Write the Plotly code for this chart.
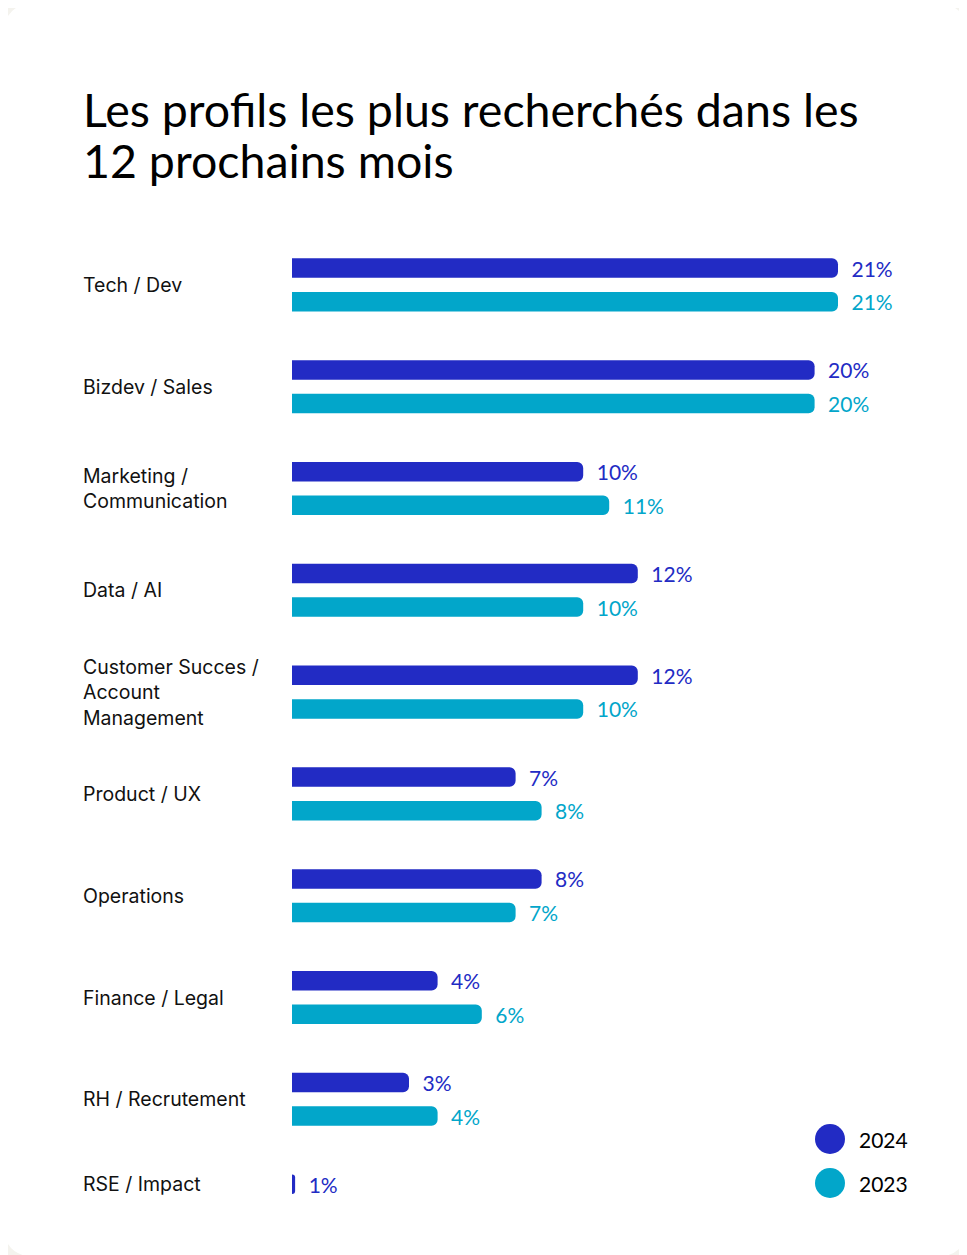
"""
Les profils les plus recherchés dans les 12 prochains mois
Horizontal grouped bars, 2024 vs 2023.
"""

import plotly.graph_objects as go

# --- data -----------------------------------------------------------------
categories = [
    "Tech / Dev",
    "Bizdev / Sales",
    "Marketing /<br>Communication",
    "Data / AI",
    "Customer Succes /<br>Account<br>Management",
    "Product / UX",
    "Operations",
    "Finance / Legal",
    "RH / Recrutement",
    "RSE / Impact",
]

# bar lengths (in %)
values_2024 = [21.0, 20.1, 11.2, 13.3, 13.3, 8.6, 9.6, 5.6, 4.5, 0.12]
values_2023 = [21.0, 20.1, 12.2, 11.2, 11.2, 9.6, 8.6, 7.3, 5.6, None]

# printed labels
labels_2024 = ["21%", "20%", "10%", "12%", "12%", "7%", "8%", "4%", "3%", "1%"]
labels_2023 = ["21%", "20%", "11%", "10%", "10%", "8%", "7%", "6%", "4%", ""]

years = ["2024", "2023"]
title_lines = ["Les profils les plus recherchés dans les", "12 prochains mois"]

# --- style ----------------------------------------------------------------
OFF = 8                      # page margin around the figure div
PAGE_W, PAGE_H = 967, 1255
W, H = PAGE_W - OFF, PAGE_H - OFF
# plot area in page pixels
X0, X1, Y0, Y1 = 292, 930, 234, 1252
BLUE = "#222BC4"
CYAN = "#02A6CA"
BG = "#F4F3EE"
TEXT = "#111111"


def px_x(x):
    return (x - X0) / (X1 - X0)


def px_y(y):
    return 1 - (y - Y0) / (Y1 - Y0)


def rounded_card(x0, y0, x1, y1, r):
    pts = [
        f"M {px_x(x0 + r)} {px_y(y0)}",
        f"L {px_x(x1 - r)} {px_y(y0)}",
        f"Q {px_x(x1)} {px_y(y0)} {px_x(x1)} {px_y(y0 + r)}",
        f"L {px_x(x1)} {px_y(y1 - r)}",
        f"Q {px_x(x1)} {px_y(y1)} {px_x(x1 - r)} {px_y(y1)}",
        f"L {px_x(x0 + r)} {px_y(y1)}",
        f"Q {px_x(x0)} {px_y(y1)} {px_x(x0)} {px_y(y1 - r)}",
        f"L {px_x(x0)} {px_y(y0 + r)}",
        f"Q {px_x(x0)} {px_y(y0)} {px_x(x0 + r)} {px_y(y0)}",
        "Z",
    ]
    return " ".join(pts)


fig = go.Figure()

for name, vals, labs, color in [
    (years[0], values_2024, labels_2024, BLUE),
    (years[1], values_2023, labels_2023, CYAN),
]:
    fig.add_trace(go.Bar(
        y=categories,
        x=vals,
        name=name,
        orientation="h",
        marker=dict(color=color, line=dict(width=0)),
        text=labs,
        texttemplate="\u2002%{text}",
        textposition="outside",
        textfont=dict(family="Lato", size=21, color=color),
        constraintext="none",
        cliponaxis=False,
        hoverinfo="skip",
        showlegend=False,
    ))

# category labels, left aligned
annotations = []
for i, cat in enumerate(categories):
    # row with a single bar: label follows the lone bar
    shift = 17 if values_2023[i] is None else 0
    annotations.append(dict(
        x=px_x(81), xref="paper", xanchor="left",
        y=cat, yref="y", yanchor="middle", yshift=shift,
        text=cat, showarrow=False, align="left",
        font=dict(family="Inter", size=19.5, color=TEXT),
    ))

# title
for j, line in enumerate(title_lines):
    annotations.append(dict(
        x=px_x(81), xref="paper", xanchor="left",
        y=px_y(109 + j * 51), yref="paper", yanchor="middle",
        text=line, showarrow=False, align="left",
        font=dict(family="Lato", size=46.5, color="#000000"),
    ))

# white card
shapes = [dict(
    type="path", xref="paper", yref="paper", layer="below",
    path=rounded_card(3, 3, 968, 1257, 34),
    fillcolor="white", line=dict(width=0),
)]
# legend
for k, (yr, color) in enumerate(zip(years, [BLUE, CYAN])):
    cy = 1139 + k * 44
    shapes.append(dict(
        type="circle", xref="paper", yref="paper",
        x0=px_x(815), x1=px_x(845), y0=px_y(cy - 15), y1=px_y(cy + 15),
        fillcolor=color, line=dict(width=0),
    ))
    annotations.append(dict(
        x=px_x(857), xref="paper", xanchor="left",
        y=px_y(cy), yref="paper", yanchor="middle",
        text=yr, showarrow=False,
        font=dict(family="Lato", size=21, color="#000000"),
    ))

fig.update_layout(
    width=W, height=H,
    margin=dict(l=X0 - OFF, r=PAGE_W - X1, t=Y0 - OFF, b=PAGE_H - Y1),
    paper_bgcolor=BG,
    plot_bgcolor="rgba(0,0,0,0)",
    barmode="group",
    bargap=0.34,
    bargroupgap=0.42,
    barcornerradius=6,
    shapes=shapes,
    annotations=annotations,
    showlegend=False,
)
fig.update_xaxes(range=[0, (X1 - X0) / 26.0], visible=False, fixedrange=True)
fig.update_yaxes(autorange="reversed", showticklabels=False, showgrid=False,
                 zeroline=False, showline=False, ticks="", fixedrange=True)

fig.write_html("out.html")
